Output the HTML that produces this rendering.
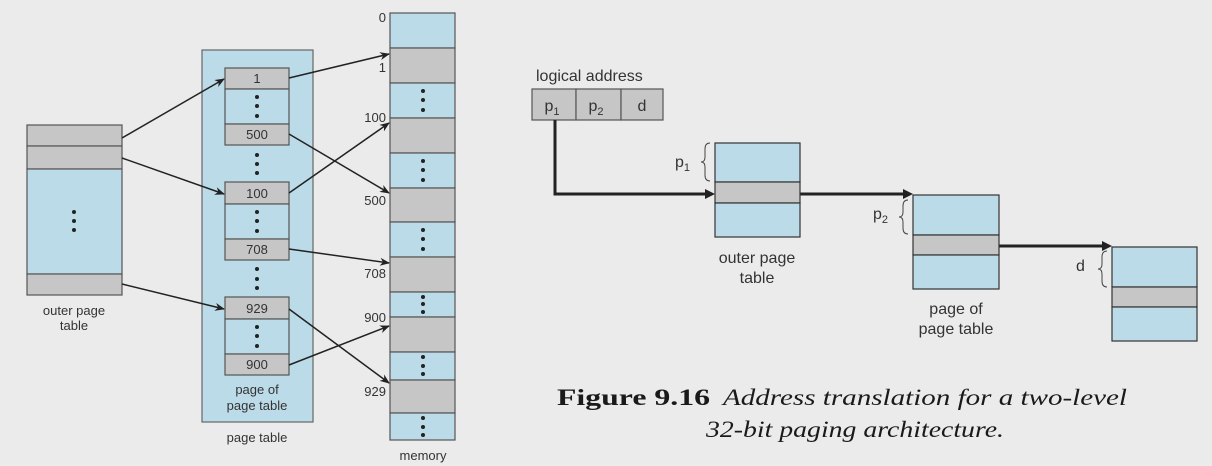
<!DOCTYPE html>
<html><head><meta charset="utf-8"><style>
body{margin:0;background:#ebebeb}
svg{display:block}
text{font-family:"Liberation Sans",sans-serif;fill:#333}
</style></head><body>
<svg width="1212" height="466" viewBox="0 0 1212 466">
<defs><marker id="ah" markerWidth="10" markerHeight="8" refX="9" refY="4" orient="auto" markerUnits="userSpaceOnUse"><path d="M0,0 L10,4 L0,8 L3,4 z" fill="#222"/></marker></defs>
<rect width="1212" height="466" fill="#ebebeb"/>
<g stroke="#555" stroke-width="1.2">
<rect x="27" y="125" width="95" height="21" fill="#c6c6c6"/>
<rect x="27" y="146" width="95" height="23" fill="#c6c6c6"/>
<rect x="27" y="169" width="95" height="105" fill="#bcdbe8"/>
<rect x="27" y="274" width="95" height="21" fill="#c6c6c6"/>
</g>
<g fill="#222"><circle cx="74" cy="212" r="2"/><circle cx="74" cy="221" r="2"/><circle cx="74" cy="230" r="2"/></g>
<text x="74" y="315" font-size="13" text-anchor="middle">outer page</text>
<text x="74" y="330" font-size="13" text-anchor="middle">table</text>
<rect x="202" y="50" width="111" height="372" fill="#bcdbe8" stroke="#666" stroke-width="1.2"/>
<g stroke="#555" stroke-width="1.2">
<rect x="225" y="68" width="64" height="21" fill="#c6c6c6"/><rect x="225" y="89" width="64" height="35" fill="#bcdbe8"/><rect x="225" y="124" width="64" height="21" fill="#c6c6c6"/>
<rect x="225" y="182" width="64" height="22" fill="#c6c6c6"/><rect x="225" y="204" width="64" height="35" fill="#bcdbe8"/><rect x="225" y="239" width="64" height="21" fill="#c6c6c6"/>
<rect x="225" y="297" width="64" height="22" fill="#c6c6c6"/><rect x="225" y="319" width="64" height="35" fill="#bcdbe8"/><rect x="225" y="354" width="64" height="21" fill="#c6c6c6"/>
</g>
<g font-size="13" text-anchor="middle">
<text x="257" y="83">1</text><text x="257" y="139">500</text><text x="257" y="198">100</text><text x="257" y="254">708</text><text x="257" y="313">929</text><text x="257" y="369">900</text>
<text x="257" y="394">page of</text><text x="257" y="410">page table</text><text x="257" y="442">page table</text>
</g>
<g fill="#222">
<circle cx="257" cy="97" r="2"/><circle cx="257" cy="106" r="2"/><circle cx="257" cy="116" r="2"/>
<circle cx="257" cy="155" r="2"/><circle cx="257" cy="164" r="2"/><circle cx="257" cy="173" r="2"/>
<circle cx="257" cy="212" r="2"/><circle cx="257" cy="221" r="2"/><circle cx="257" cy="231" r="2"/>
<circle cx="257" cy="269" r="2"/><circle cx="257" cy="279" r="2"/><circle cx="257" cy="288" r="2"/>
<circle cx="257" cy="327" r="2"/><circle cx="257" cy="336" r="2"/><circle cx="257" cy="346" r="2"/>
</g>
<g stroke="#555" stroke-width="1.2">
<rect x="390" y="13" width="65" height="35" fill="#bcdbe8"/><rect x="390" y="48" width="65" height="35" fill="#c6c6c6"/>
<rect x="390" y="83" width="65" height="35" fill="#bcdbe8"/><rect x="390" y="118" width="65" height="35" fill="#c6c6c6"/>
<rect x="390" y="153" width="65" height="35" fill="#bcdbe8"/><rect x="390" y="188" width="65" height="34" fill="#c6c6c6"/>
<rect x="390" y="222" width="65" height="35" fill="#bcdbe8"/><rect x="390" y="257" width="65" height="35" fill="#c6c6c6"/>
<rect x="390" y="292" width="65" height="25" fill="#bcdbe8"/><rect x="390" y="317" width="65" height="35" fill="#c6c6c6"/>
<rect x="390" y="352" width="65" height="28" fill="#bcdbe8"/><rect x="390" y="380" width="65" height="33" fill="#c6c6c6"/>
<rect x="390" y="413" width="65" height="27" fill="#bcdbe8"/>
</g>
<g fill="#222">
<circle cx="423" cy="91" r="2"/><circle cx="423" cy="100" r="2"/><circle cx="423" cy="110" r="2"/>
<circle cx="423" cy="161" r="2"/><circle cx="423" cy="170" r="2"/><circle cx="423" cy="180" r="2"/>
<circle cx="423" cy="230" r="2"/><circle cx="423" cy="239" r="2"/><circle cx="423" cy="249" r="2"/>
<circle cx="423" cy="297" r="2"/><circle cx="423" cy="304" r="2"/><circle cx="423" cy="312" r="2"/>
<circle cx="423" cy="357" r="2"/><circle cx="423" cy="366" r="2"/><circle cx="423" cy="374" r="2"/>
<circle cx="423" cy="418" r="2"/><circle cx="423" cy="427" r="2"/><circle cx="423" cy="435" r="2"/>
</g>
<g font-size="13" text-anchor="end">
<text x="386" y="22">0</text><text x="386" y="72">1</text><text x="386" y="122">100</text><text x="386" y="205">500</text><text x="386" y="278">708</text><text x="386" y="322">900</text><text x="386" y="396">929</text>
</g>
<text x="423" y="460" font-size="13" text-anchor="middle">memory</text>
<g stroke="#222" stroke-width="1.5" marker-end="url(#ah)">
<line x1="122" y1="138" x2="224" y2="79"/><line x1="122" y1="158" x2="224" y2="194"/><line x1="122" y1="284" x2="224" y2="309"/>
<line x1="289" y1="78" x2="389" y2="54"/><line x1="289" y1="134" x2="389" y2="193"/><line x1="289" y1="193" x2="389" y2="123"/>
<line x1="289" y1="249" x2="389" y2="263"/><line x1="289" y1="309" x2="389" y2="383"/><line x1="289" y1="365" x2="389" y2="326"/>
</g>
<text x="536" y="81" font-size="16">logical address</text>
<g stroke="#555" stroke-width="1.2" fill="#c6c6c6">
<rect x="532" y="89" width="44" height="31"/><rect x="576" y="89" width="45" height="31"/><rect x="621" y="89" width="42" height="31"/>
</g>
<g font-size="16" text-anchor="middle">
<text x="552" y="111">p<tspan font-size="11" dy="4">1</tspan></text>
<text x="596" y="111">p<tspan font-size="11" dy="4">2</tspan></text>
<text x="642" y="111">d</text>
</g>
<g stroke="#222" stroke-width="3" fill="none">
<path d="M555,120 V194 H710"/><line x1="800" y1="194" x2="907" y2="194"/><line x1="999" y1="246" x2="1106" y2="246"/>
</g>
<g fill="#222"><path d="M715,194 l-10,-5 v10z"/><path d="M913,194 l-10,-5 v10z"/><path d="M1112,246 l-10,-5 v10z"/></g>
<g stroke="#333" stroke-width="1.2">
<rect x="715" y="143" width="85" height="39" fill="#bcdbe8"/><rect x="715" y="182" width="85" height="21" fill="#c6c6c6"/><rect x="715" y="203" width="85" height="34" fill="#bcdbe8"/>
<rect x="913" y="195" width="86" height="40" fill="#bcdbe8"/><rect x="913" y="235" width="86" height="20" fill="#c6c6c6"/><rect x="913" y="255" width="86" height="34" fill="#bcdbe8"/>
<rect x="1112" y="247" width="85" height="40" fill="#bcdbe8"/><rect x="1112" y="287" width="85" height="20" fill="#c6c6c6"/><rect x="1112" y="307" width="85" height="34" fill="#bcdbe8"/>
</g>
<g stroke="#444" stroke-width="1" fill="none">
<path d="M710,143 q-5,0 -5,6 v8 q0,5 -4,5 q4,0 4,5 v8 q0,6 5,6"/>
<path d="M908,200 q-5,0 -5,6 v6 q0,5 -4,5 q4,0 4,5 v6 q0,6 5,6"/>
<path d="M1107,251 q-5,0 -5,6 v7 q0,5 -4,5 q4,0 4,5 v7 q0,6 5,6"/>
</g>
<g font-size="16">
<text x="675" y="167">p<tspan font-size="11" dy="4">1</tspan></text>
<text x="873" y="219">p<tspan font-size="11" dy="4">2</tspan></text>
<text x="1076" y="271">d</text>
</g>
<g font-size="16" text-anchor="middle">
<text x="757" y="263">outer page</text><text x="757" y="283">table</text>
<text x="956" y="314">page of</text><text x="956" y="334">page table</text>
</g>
<g font-family="Liberation Serif, serif" font-size="23">
<text x="557" y="405" style="fill:#1a1a1a;font-family:'Liberation Serif',serif" font-weight="bold" textLength="153" lengthAdjust="spacingAndGlyphs">Figure 9.16</text>
<text x="723" y="405" style="fill:#1a1a1a;font-family:'Liberation Serif',serif" font-style="italic" textLength="404" lengthAdjust="spacingAndGlyphs">Address translation for a two-level</text>
<text x="706" y="437" style="fill:#1a1a1a;font-family:'Liberation Serif',serif" font-style="italic" textLength="298" lengthAdjust="spacingAndGlyphs">32-bit paging architecture.</text>
</g>
</svg>
</body></html>
